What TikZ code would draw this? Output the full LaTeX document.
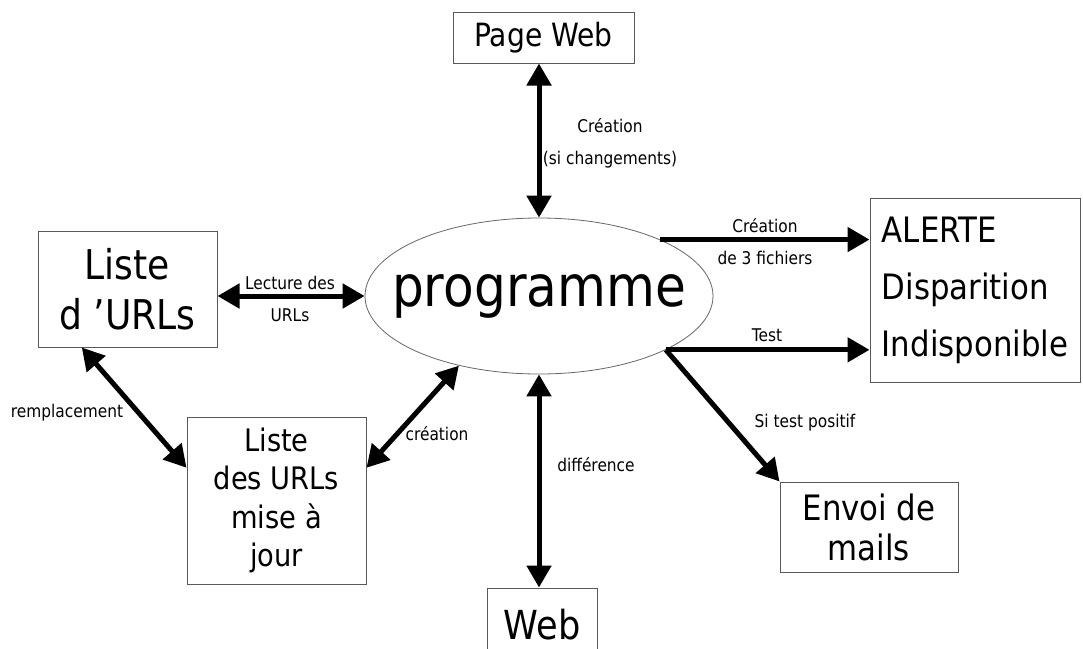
\documentclass[tikz,border=0pt]{standalone}
\usepackage{fontspec}
\setmainfont[FakeStretch=0.88]{DejaVu Sans}
\usetikzlibrary{arrows.meta,shapes.geometric}

\begin{document}
\begin{tikzpicture}[x=1pt,y=-1pt,
    >={Triangle[length=22pt,width=24pt]},
    boite/.style={draw=black!65,line width=1pt,inner sep=0pt,align=center},
    fleche/.style={line width=5pt},
    etiq/.style={font=\fontsize{17.5}{32}\selectfont,align=center}]
  \useasboundingbox (0,0) rectangle (1083,648);

  \node[boite,minimum width=181pt,minimum height=51pt,font=\fontsize{32}{38}\selectfont] (pageweb) at (543.5,37.5) {Page Web};
  \node[draw=black!60,line width=0.8pt,ellipse,minimum width=348pt,minimum height=156pt,inner sep=0pt,font=\fontsize{57}{60}\selectfont] (prog) at (539,296) {\makebox[0pt]{programme}};
  \node[boite,minimum width=179pt,minimum height=116pt,font=\fontsize{41}{50}\selectfont] (listeurl) at (127.5,289) {Liste\\d 'URLs};
  \node[boite,minimum width=210pt,minimum height=184pt,align=left,font=\fontsize{35}{57}\selectfont] (alerte) at (975,290) {ALERTE\\Disparition\\Indisponible};
  \node[boite,minimum width=179pt,minimum height=167pt,font=\fontsize{31}{38.5}\selectfont] (majour) at (276.5,500.5) {Liste\\des URLs\\mise à\\jour};
  \node[boite,minimum width=178pt,minimum height=90pt,font=\fontsize{35}{40}\selectfont] (envoi) at (869,527) {Envoi de\\mails};
  \node[boite,minimum width=110pt,minimum height=74pt,font=\fontsize{40}{48}\selectfont] (web) at (542,625) {Web};

  \draw[fleche,<->] (prog.north |- pageweb.south) -- (prog.north);
  \draw[fleche,<->] (listeurl.east |- prog.west) -- (prog.west);
  \draw[fleche,->] (prog.25) -- (prog.25 -| alerte.west);
  \draw[fleche,->] (prog.-23) -- (prog.-23 -| alerte.west);
  \draw[fleche,->] (prog.-23) -- (envoi.north west);
  \draw[fleche,<->] (prog.south) -- (prog.south |- web.north);
  \draw[fleche,<->] (majour.20) -- (prog.221);
  \draw[fleche,<->] (listeurl.232) -- (majour.160);

  \node[etiq] (lblpage) at (610,143) {Création\\(si changements)};
  \node[etiq] (lbllect) at (290,299) {Lecture des\\URLs};
  \node[etiq] (lblfich) at (765,242) {Création\\de 3 fichiers};
  \node[etiq] (lbltest) at (767,335) {Test};
  \node[etiq] (lblremp) at (67,413) {remplacement};
  \node[etiq] (lblcrea) at (437,434) {création};
  \node[etiq] (lblpos) at (805,423) {Si test positif};
  \node[etiq] (lbldiff) at (596,465) {différence};
\end{tikzpicture}
\end{document}
